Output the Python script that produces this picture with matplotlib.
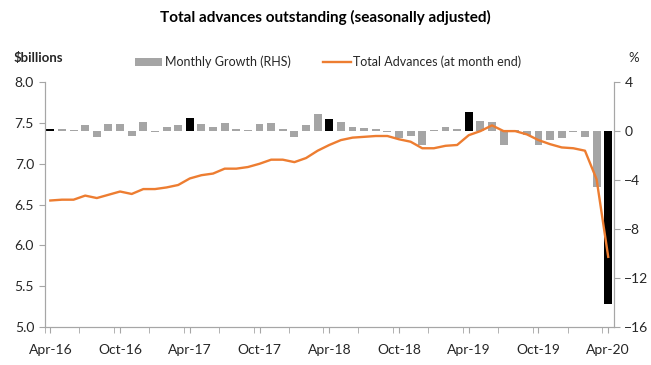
import numpy as np
import pandas as pd
import matplotlib.pyplot as plt
from matplotlib.patches import Patch
from matplotlib.lines import Line2D

plt.rcParams['font.family'] = ['Lato', 'DejaVu Sans']

months = pd.date_range('2016-04-01', '2020-04-01', freq='MS')
tick_labels = ['Apr-16', 'Oct-16', 'Apr-17', 'Oct-17', 'Apr-18',
               'Oct-18', 'Apr-19', 'Oct-19', 'Apr-20']

# total advances, $billions (LHS)
advances = [6.55, 6.56, 6.56, 6.61, 6.58, 6.62, 6.66, 6.63, 6.69, 6.69, 6.71, 6.74,
            6.82, 6.86, 6.88, 6.94, 6.94, 6.96, 7.00, 7.05, 7.05, 7.02, 7.07, 7.16,
            7.23, 7.29, 7.32, 7.33, 7.34, 7.34, 7.30, 7.27, 7.19, 7.19, 7.22, 7.23,
            7.35, 7.40, 7.47, 7.40, 7.40, 7.36, 7.29, 7.24, 7.20, 7.19, 7.16, 6.81,
            5.86]

# monthly growth, % (RHS)
growth = [0.15, 0.15, 0.1, 0.5, -0.45, 0.55, 0.55, -0.4, 0.75, -0.05, 0.35, 0.5,
          1.1, 0.6, 0.35, 0.7, 0.15, 0.08, 0.6, 0.7, 0.15, -0.5, 0.5, 1.4,
          0.95, 0.75, 0.35, 0.25, 0.15, -0.05, -0.6, -0.4, -1.1, 0.08, 0.35, 0.15,
          1.6, 0.85, 0.75, -1.1, 0.08, -0.35, -1.1, -0.7, -0.6, -0.1, -0.5, -4.55,
          -14.1]

x = np.arange(len(months))
bar_colors = ['black' if m.month == 4 else '#A5A5A5' for m in months]
orange = '#ED7D31'
axis_grey = '#A6A6A6'
text_col = '#262626'

fig = plt.figure(figsize=(6.51, 3.65), dpi=100)
ax = fig.add_axes([0.0684, 0.104, 0.8748, 0.671])
ax2 = ax.twinx()

ax2.bar(x, growth, width=0.68, color=bar_colors)
ax.plot(x, advances, color=orange, linewidth=1.7)

ax.set_zorder(ax2.get_zorder() + 1)
ax.patch.set_visible(False)

ax.set_xlim(-0.5, len(x) - 0.5)
ax.set_ylim(5.0, 8.0)
ax.set_yticks(np.arange(5.0, 8.01, 0.5))
ax.set_yticklabels([f'{v:.1f}' for v in np.arange(5.0, 8.01, 0.5)])
ax2.set_ylim(-16, 4)
ax2.set_yticks(np.arange(-16, 5, 4))

ax.set_xticks(np.arange(0, len(x), 6))
ax.set_xticklabels(tick_labels)
ax.set_xticks(np.arange(-0.5, len(x), 3), minor=True)
ax.tick_params(axis='x', which='major', length=0, pad=8)
ax.tick_params(axis='x', which='minor', length=4, color=axis_grey, direction='out')

for a in (ax, ax2):
    for s in a.spines.values():
        s.set_color(axis_grey)
    a.spines['top'].set_visible(False)
    a.tick_params(labelsize=10, labelcolor=text_col, color=axis_grey, length=4)

fig.text(0.5, 0.953, 'Total advances outstanding (seasonally adjusted)',
         ha='center', va='center', fontsize=11, fontweight='bold', color='black')
fig.text(0.021, 0.84, '$billions', ha='left', va='center', fontsize=9.5,
         fontweight='bold', color=text_col)
fig.text(0.965, 0.84, '%', ha='left', va='center', fontsize=9.5, color=text_col)

handles = [Patch(facecolor='#A5A5A5', edgecolor='none'),
           Line2D([0], [0], color=orange, linewidth=1.7)]
fig.legend(handles, ['Monthly Growth (RHS)', 'Total Advances (at month end)'],
           loc='center', bbox_to_anchor=(0.504, 0.83), ncol=2, frameon=False,
           fontsize=9, handlelength=2.2, handleheight=0.6, columnspacing=2.6,
           handletextpad=0.2, labelcolor=text_col)

plt.savefig('out.png', dpi=100)
